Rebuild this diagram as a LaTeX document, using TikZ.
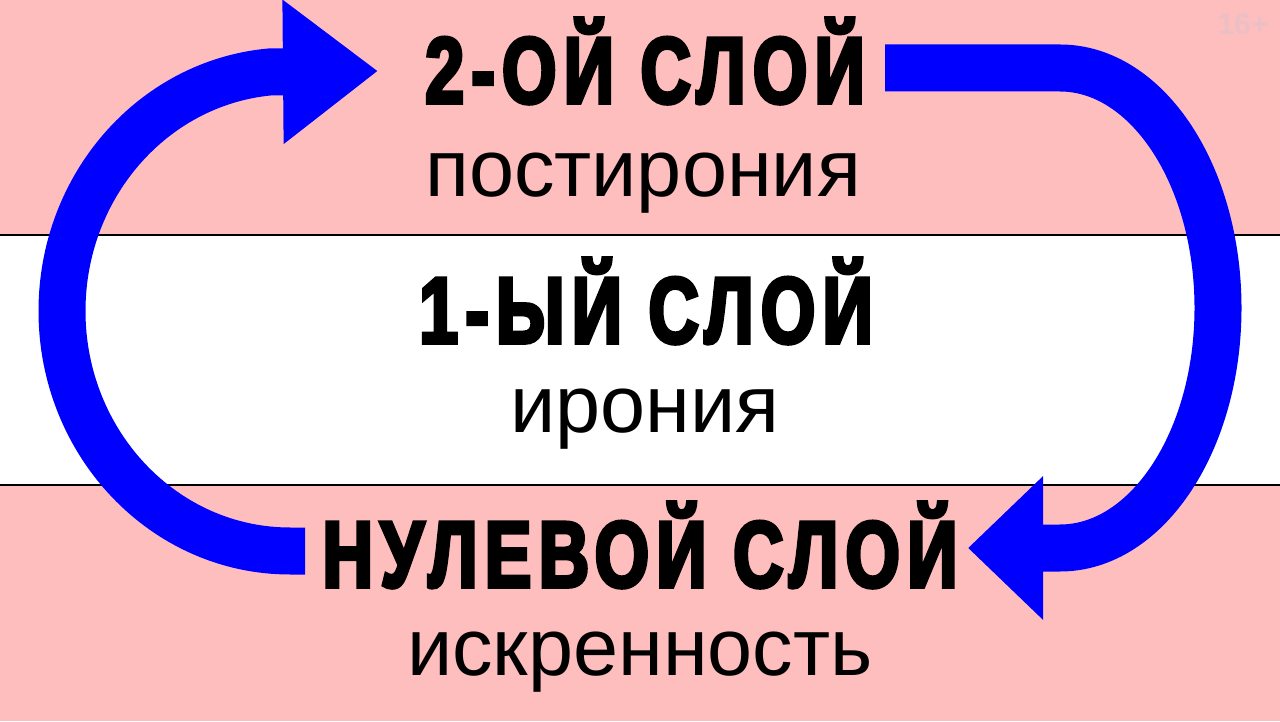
\documentclass[tikz,border=0pt]{standalone}
\usepackage{fontspec}
\setmainfont{Liberation Sans}
\newfontfamily\heavyfont{Liberation Sans}[FakeStretch=0.74,LetterSpace=8,BoldFeatures={FakeBold=4}]
\usetikzlibrary{arrows.meta}
\definecolor{bandpink}{HTML}{FFBEBE}
\definecolor{loopblue}{HTML}{0000FF}
\definecolor{agemark}{HTML}{EAC0C6}

\begin{document}
\begin{tikzpicture}[x=1pt,y=1pt,
    layer/.style={anchor=base,inner sep=0pt,font=\heavyfont\bfseries\fontsize{94}{94}\selectfont},
    note/.style={anchor=base,inner sep=0pt,font=\fontsize{81}{81}\selectfont},
    loop/.style={draw=loopblue,line width=47pt}]
    \clip (0,0) rectangle (1280,721);
    % bands
    \fill[bandpink] (0,0) rectangle (1280,721);
    \fill[white] (0,236) rectangle (1280,486);
    \draw[line width=2.5pt] (0,486) -- (1280,486);
    \draw[line width=2.5pt] (0,236) -- (1280,236);
    \node[font=\bfseries\fontsize{30}{30}\selectfont,text=agemark] (age) at (1243,697) {16+};
    % layers
    \node[layer] (second) at (645,618) {2-ОЙ СЛОЙ};
    \node[note] (secondsub) at (643,524) {постирония};
    \node[layer] (first) at (646,378) {1-ЫЙ СЛОЙ};
    \node[note] (firstsub) at (645,288) {ирония};
    \node[layer] (zero) at (640,134) {НУЛЕВОЙ СЛОЙ};
    \node[note] (zerosub) at (640,46) {искренность};
    % loop ends
    \coordinate (upstart) at (305,170);
    \coordinate (uptip) at (378,650);
    \coordinate (downstart) at (885,653);
    \coordinate (downtip) at (968,173);
    % loops
    \draw[loop,-{Triangle[length=95pt,width=138pt]}] (upstart) -- (290,170)
      arc[start angle=270,end angle=95,x radius=228,y radius=240] -- (uptip);
    \draw[loop,-{Triangle[length=75pt,width=139pt]}] (downstart) -- (1060,653)
      arc[start angle=90,end angle=-90,x radius=158,y radius=240] -- (downtip);
\end{tikzpicture}
\end{document}
